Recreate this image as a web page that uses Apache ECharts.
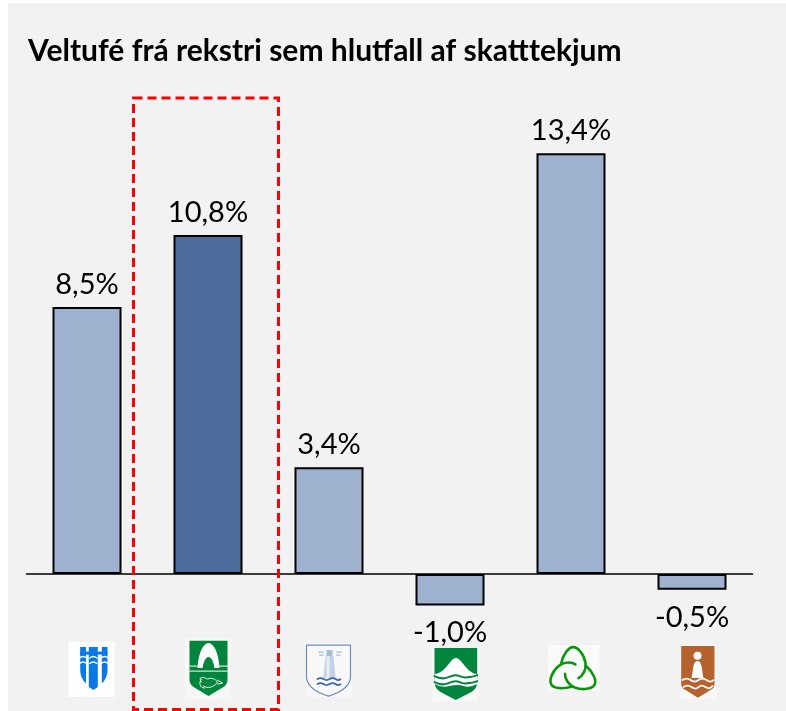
<!DOCTYPE html>
<html><head><meta charset="utf-8">
<style>html,body{margin:0;padding:0;background:#fff}#c{width:786px;height:711px}</style>
<script src="https://cdn.jsdelivr.net/npm/echarts@6/dist/echarts.min.js"></script>
</head><body><div id="c"></div>
<script>
const chartTitle = 'Veltufé frá rekstri sem hlutfall af skatttekjum';
const categories = ['Reykjanesbær', 'Borgarbyggð', 'Garður', 'Fjallabyggð', 'Árborg', 'Ísafjörður'];
const values = [8.5, 10.8, 3.4, -1.0, 13.4, -0.5];
const highlighted = 'Borgarbyggð';
const logoRow = -3.06;

const W = '#ffffff';
function box(x, y, w, h, fill) { return {type:'rect', shape:{x, y, width:w, height:h}, style:{fill}}; }
function fillP(d, fill) { return {type:'path', shape:{pathData:d}, style:{fill}}; }
function line(d, stroke, lw) { return {type:'path', shape:{pathData:d}, style:{fill:'none', stroke, lineWidth:lw, lineCap:'round', lineJoin:'round'}}; }

const logos = [
  function () {
    const B = '#0b78e8', a = [box(-18,-28,46,55,W),
      fillP('M-6.3,-23H-0.5V13.5Q-6.3,8 -6.3,0Z',B),
      fillP('M2.3,-23H11.3V17L7,20L2.3,17Z',B),
      fillP('M15.3,-23H21V0Q21,8 15.3,13.5Z',B),
      box(-6.3,-18.5,27.3,3,B)];
    [-12,-6.5].forEach(y => [-3.4,6.8,18.2].forEach(x => a.push(line(`M${x-3.5},${y}Q${x},${y-3} ${x+3.5},${y}`,W,1.4))));
    return a;
  },
  function () {
    const G = '#01843c';
    return [box(-22.3,-32.3,45.3,61.3,'#f7f7f7'),
      fillP('M-18,-29.3H20V10Q20,14 16,17L1,26L-14,17Q-18,14 -18,10Z',G),
      fillP('M-10,-2C-9,-18 -4,-27 1,-27C6,-27 11,-18 12,-2L7,-2C6,-8 4,-13 1,-13C-2,-13 -4,-8 -5,-2Z',W),
      line('M-18,-4H-8M10,-4H20M-18,1H20','#cfe5d6',1.2),
      line('M-6,12C-10,7 -5,6 0,9C4,7 8,9 10,12C7,17 0,19 -4,16M-6,9C-9,12 -8,18 -3,18M10,10L15,13L10,14',W,0.9)];
  },
  function () {
    const L = '#a9bcdb', D = '#3f66aa';
    return [box(-23,-27.3,46.7,54,'#f8f8f9'),
      line('M-22,-25H22V8Q20,20 0,26Q-20,20 -22,8Z','#6a8cc0',1.2),
      fillP('M-3,-14H5L7,8H-5Z','#c3d1e6'),
      box(-2,-14,3,22,'#e9eef6'),
      box(-2,-20,6,6,L),
      line('M-10,-18H-5M8,-18H13M-9,-15H-5M8,-15H12',L,1.1),
      line('M-11,9Q-8,7 -5,9T1,9T7,9T12,9M-11,14Q-8,12 -5,14T1,14T7,14T12,14',D,1.8)];
  },
  function () {
    const G = '#01843c';
    return [box(-17,-22.3,46,53,'#f8f8f8'),
      fillP('M-15,-22H27.7V12Q27.7,18 22,22L6.3,30L-9,22Q-15,18 -15,12Z',G),
      fillP('M-15,4C-9,4 -4,-2 0,-7C3,-11 5,-12 6.3,-12C8,-12 10,-11 13,-7C17,-2 22,4 27.7,4V14Q20,18 14,16T0,16T-15,14Z',W),
      line('M-15,6Q-8,10 -1,7T10,6T20,7T27.7,5',G,2),
      line('M-15,12Q-8,16 -1,13T10,12T20,13T27.7,11',G,2)];
  },
  function () {
    const G = '#0a960a', P = 'M-12,-8C-10,-18 -4,-25 0,-25C5,-25 11,-18 12.5,-9C13.5,-2 9.5,4 5.5,6';
    return [box(-22.7,-25,51.7,45.7,'#fafafa')].concat([0, 2*Math.PI/3, 4*Math.PI/3].map(r => ({
      type:'path', x:2.5, y:2, rotation:r, shape:{pathData:P},
      style:{fill:'none', stroke:G, lineWidth:2.6, lineCap:'round'}
    })));
  },
  function () {
    const O = '#b5622f';
    return [box(-11,-24.3,35.7,53,'#f8f8f8'),
      fillP('M-10.3,-24H23V14Q23,18 19,20L6.5,27.7L-6,20Q-10.3,18 -10.3,14Z',O),
      {type:'circle', shape:{cx:6,cy:-14.3,r:4}, style:{fill:W}},
      fillP('M6,-9C3,-9 2,-5 1.5,-1C1.3,2 0.5,5 0,8H12C11.5,5 10.7,2 10.5,-1C10,-5 9,-9 6,-9Z',W),
      line('M-9,10Q-5,7 -1,10T7,10T15,10T22,10M-8,17Q-4,14 0,17T7,17T14,17T21,16',W,1.8)];
  }
];

const chart = echarts.init(document.getElementById('c'), null, {renderer:'canvas'});
chart.setOption({
  animation:false,
  backgroundColor:'#ffffff',
  title:{text:chartTitle, left:28, top:36, padding:0, textStyle:{fontFamily:'Lato', fontWeight:'bold', fontSize:30, color:'#000'}},
  grid:{left:26.5, top:103, width:726, height:568.34},
  xAxis:{type:'category', data:categories, axisLabel:{show:false}, axisTick:{show:false},
    axisLine:{onZero:true, lineStyle:{color:'#000', width:1.5}}},
  yAxis:{type:'value', min:-3.1, max:15, show:false, splitLine:{show:false}},
  graphic:[
    {type:'rect', z:-10, silent:true, shape:{x:8,y:3,width:778,height:708}, style:{fill:'#f2f2f2'}},
    {type:'rect', z:100, silent:true, shape:{x:133.5,y:98,width:145,height:611.5},
      style:{fill:'none', stroke:'#ff0000', lineWidth:3, lineDash:[9,5]}}
  ],
  series:[
    {type:'bar', barWidth:69,
      data:values.map((v,i)=>({value:v,
        itemStyle:{color:categories[i]===highlighted?'#4d6d9c':'#9eb1cf', borderColor:'#000', borderWidth:2},
        label:{position:v<0?'bottom':'top', distance:v<0?13:8}})),
      label:{show:true, fontFamily:'Lato', fontSize:29, color:'#000',
        formatter:p=>p.value.toFixed(1).replace('.',',')+'%'}},
    {type:'custom', clip:false, silent:true, z:5,
      data:categories.map((c,i)=>[i,logoRow]),
      encode:{x:0,y:1},
      renderItem:function(params,api){
        const pt=api.coord([api.value(0),api.value(1)]);
        return {type:'group', x:pt[0]-0.5, y:pt[1], children:logos[params.dataIndex]()};
      }}
  ]
});
</script></body></html>
